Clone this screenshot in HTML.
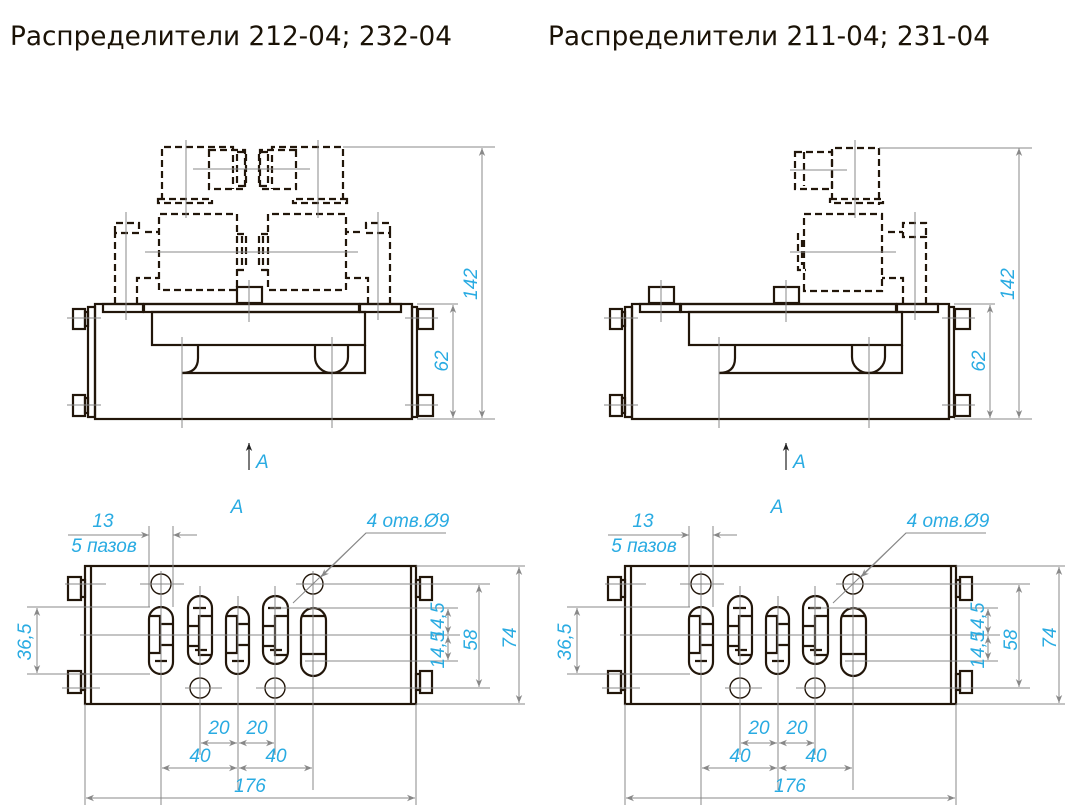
<!DOCTYPE html>
<html><head><meta charset="utf-8"><style>
html,body{margin:0;padding:0;background:#fff;}
svg{display:block;}
.k{fill:none;stroke:#22160a;stroke-width:2.2;}
.d{fill:none;stroke:#22160a;stroke-width:2.2;stroke-dasharray:7,4;}
.g{fill:none;stroke:#888;stroke-width:1;}
.t{font-family:"Liberation Sans",sans-serif;font-style:italic;fill:#29abe2;font-size:19px;}
.h{font-family:"DejaVu Sans","Liberation Sans",sans-serif;fill:#1a1206;font-size:27px;}
</style></head><body>
<svg width="1074" height="807" viewBox="0 0 1074 807" xmlns="http://www.w3.org/2000/svg">
<defs>
<marker id="a" viewBox="0 0 10 10" refX="10" refY="5" markerWidth="10" markerHeight="8" orient="auto-start-reverse" markerUnits="userSpaceOnUse"><path d="M0,1 L10,5 L0,9 L3,5 Z" fill="#888"/></marker>
<marker id="b" viewBox="0 0 10 10" refX="10" refY="5" markerWidth="10" markerHeight="8" orient="auto-start-reverse" markerUnits="userSpaceOnUse"><path d="M0,1 L10,5 L0,9 L3,5 Z" fill="#222"/></marker>

<g id="body">
 <rect class="k" x="95" y="304" width="317" height="115"/>
 <rect class="k" x="103" y="304" width="40" height="8"/>
 <rect class="k" x="144" y="304" width="215" height="8"/>
 <rect class="k" x="360" y="304" width="41" height="8"/>
 <rect class="k" x="152" y="312" width="213" height="33"/>
 <path class="k" d="M182,373 H365 V345"/>
 <path class="k" d="M198,345 V358 Q198,373 182,373"/>
 <path class="k" d="M315,345 V357 A16.5,16 0 0 0 348,357 V345"/>
 <rect class="k" x="88" y="307" width="7" height="110"/>
 <rect class="k" x="412" y="307" width="5" height="110"/>
 <rect class="k" x="73" y="309" width="12" height="20"/>
 <rect class="k" x="73" y="395" width="12" height="21"/>
 <rect class="k" x="85" y="312" width="3" height="14"/>
 <rect class="k" x="85" y="398" width="3" height="15"/>
 <rect class="k" x="418" y="309" width="15" height="20"/>
 <rect class="k" x="418" y="395" width="15" height="21"/>
 <rect class="k" x="237" y="287" width="25" height="16"/>
 <path class="g" d="M249,280 V322 M182,337 V428 M332,337 V428 M67,318 H101 M67,405 H101 M405,318 H438 M405,405 H438"/>
 <path class="g" d="M417,419 H495 M417,304 H458"/>
 <line class="g" x1="482" y1="148" x2="482" y2="418" marker-start="url(#a)" marker-end="url(#a)"/>
 <line class="g" x1="453" y1="305" x2="453" y2="418" marker-start="url(#a)" marker-end="url(#a)"/>
 <text class="t" transform="translate(477,284) rotate(-90)" text-anchor="middle" font-size="21">142</text>
 <text class="t" transform="translate(448,361) rotate(-90)" text-anchor="middle" font-size="20">62</text>
 <line x1="249" y1="470" x2="249" y2="443" stroke="#222" stroke-width="1.2" marker-end="url(#b)"/>
 <text class="t" x="256" y="468" font-size="15">A</text>
</g>

<g id="bottom">
 <rect class="k" x="85" y="566" width="331" height="138"/>
 <path class="k" d="M91,566 V704 M411,566 V704"/>
 <rect class="k" x="68" y="577" width="13" height="23"/>
 <rect class="k" x="68" y="671" width="13" height="22"/>
 <rect class="k" x="81" y="580" width="4" height="17"/>
 <rect class="k" x="81" y="674" width="4" height="16"/>
 <rect class="k" x="420" y="577" width="12" height="23"/>
 <rect class="k" x="420" y="671" width="12" height="22"/>
 <rect class="k" x="416" y="580" width="4" height="17"/>
 <rect class="k" x="416" y="674" width="4" height="16"/>
 <g stroke-width="1.4" stroke="#22160a" fill="none">
  <circle cx="161" cy="584" r="10"/><circle cx="313" cy="584" r="10"/>
  <circle cx="200" cy="688" r="10"/><circle cx="275" cy="688" r="10"/>
 </g>
 <g class="k" stroke-width="1.8">
  <rect x="149" y="607" width="24" height="67" rx="12"/>
  <rect x="188" y="596" width="24" height="68" rx="12"/>
  <rect x="226" y="607" width="23" height="67" rx="11.5"/>
  <rect x="263" y="596" width="25" height="68" rx="12.5"/>
  <rect x="301" y="608" width="25" height="68" rx="12.5"/>
  <path d="M149,616 H160 V653 H149 M160,624 H173 M160,645 H173 M155,661 H167"/>
  <path d="M212,616 H199 V655 H212 M188,626 H199 M188,646 H199 M193,608 H206 M195,650 H207"/>
  <path d="M226,616 H237 V653 H226 M237,624 H249 M237,645 H249 M232,661 H244"/>
  <path d="M288,616 H275 V655 H288 M263,626 H275 M263,646 H275 M268,608 H281 M270,650 H282"/>
  <path d="M301,616 H326 M301,654 H326"/>
 </g>
 <path class="g" d="M80,635 H460 M65,584 H106 M140,584 H184 M296,584 H490 M405,584 H440 M62,688 H100 M185,688 H222 M256,688 H490 M405,688 H445
  M161,571 V805 M200,586 V755 M238,596 V790 M275,586 V755 M313,571 V790 M149,526 V607 M173,526 V607 M85,704 V805 M416,704 V805
  M27,607 H150 M27,674 H150 M270,608 H458 M305,661 H458 M416,566 H525 M416,704 H525"/>
 <line class="g" x1="68" y1="535" x2="149" y2="535" marker-end="url(#a)"/>
 <line class="g" x1="197" y1="535" x2="173" y2="535" marker-end="url(#a)"/>
 <line class="g" x1="37" y1="608" x2="37" y2="673" marker-start="url(#a)" marker-end="url(#a)"/>
 <line class="g" x1="448" y1="609" x2="448" y2="634" marker-start="url(#a)" marker-end="url(#a)"/>
 <line class="g" x1="448" y1="636" x2="448" y2="660" marker-start="url(#a)" marker-end="url(#a)"/>
 <line class="g" x1="479" y1="585" x2="479" y2="687" marker-start="url(#a)" marker-end="url(#a)"/>
 <line class="g" x1="519" y1="567" x2="519" y2="703" marker-start="url(#a)" marker-end="url(#a)"/>
 <line class="g" x1="201" y1="743" x2="237" y2="743" marker-start="url(#a)" marker-end="url(#a)"/>
 <line class="g" x1="239" y1="743" x2="274" y2="743" marker-start="url(#a)" marker-end="url(#a)"/>
 <line class="g" x1="162" y1="768" x2="237" y2="768" marker-start="url(#a)" marker-end="url(#a)"/>
 <line class="g" x1="239" y1="768" x2="312" y2="768" marker-start="url(#a)" marker-end="url(#a)"/>
 <line class="g" x1="86" y1="798" x2="415" y2="798" marker-start="url(#a)" marker-end="url(#a)"/>
 <path class="g" d="M446,533 H366 L293,603"/>
 <line class="g" x1="366" y1="533" x2="321" y2="577" marker-end="url(#a)"/>
 <text class="t" x="237" y="513" text-anchor="middle" font-size="15">A</text>
 <text class="t" x="103" y="527" text-anchor="middle">13</text>
 <text class="t" x="104" y="552" text-anchor="middle">5 пазов</text>
 <text class="t" x="408" y="527" text-anchor="middle" font-size="15">4 отв.Ø9</text>
 <text class="t" transform="translate(31,642) rotate(-90)" text-anchor="middle">36,5</text>
 <text class="t" transform="translate(444,621) rotate(-90)" text-anchor="middle" font-size="11">14,5</text>
 <text class="t" transform="translate(444,650) rotate(-90)" text-anchor="middle" font-size="11">14,5</text>
 <text class="t" transform="translate(477,640) rotate(-90)" text-anchor="middle" font-size="20">58</text>
 <text class="t" transform="translate(516,638) rotate(-90)" text-anchor="middle" font-size="20">74</text>
 <text class="t" x="219" y="734" text-anchor="middle">20</text>
 <text class="t" x="257" y="734" text-anchor="middle">20</text>
 <text class="t" x="200" y="762" text-anchor="middle">40</text>
 <text class="t" x="276" y="762" text-anchor="middle">40</text>
 <text class="t" x="250" y="792" text-anchor="middle">176</text>
</g>

<g id="unitL">
 <path class="d" d="M162,200 V147 H233 V189"/>
 <rect class="d" x="209" y="150" width="36" height="39"/>
 <rect class="d" x="237" y="152" width="9" height="34"/>
 <rect class="d" x="158" y="199" width="54" height="4"/>
 <path class="d" d="M159,290 V214 H237 V290 Z"/>
 <path class="d" d="M137,304 V278 H159"/>
 <path class="d" d="M115,304 V233 H139 V223 H115 V233 M145,232 H159"/>
 <path class="d" d="M242,236 V265 M246,236 V265 M237,270 H247 M237,234 H247"/>
</g>
</defs>

<text class="h" x="10" y="45" textLength="442" lengthAdjust="spacingAndGlyphs">Распределители 212-04; 232-04</text>
<text class="h" x="548" y="45" textLength="442" lengthAdjust="spacingAndGlyphs">Распределители 211-04; 231-04</text>

<use href="#body"/>
<use href="#bottom"/>
<use href="#unitL"/>
<use href="#unitL" transform="translate(505,0) scale(-1,1)"/>
<path class="g" d="M145,252 H358 M193,169 H310 M186,140 V218 M318,140 V218 M343,147 H495 M126,212 V320 M378,212 V320"/>

<use href="#body" transform="translate(537,0)"/>
<use href="#bottom" transform="translate(540,0)"/>
<rect class="k" x="649" y="287" width="25" height="16"/>
<path class="g" d="M661,280 V322"/>
<g>
 <path class="d" d="M832,200 V148 H879 V205"/>
 <rect class="d" x="795" y="152" width="37" height="37"/>
 <path class="d" d="M804,152 V186"/>
 <rect class="d" x="830" y="199" width="53" height="4"/>
 <path class="d" d="M804,291 V214 H882 V291 Z"/>
 <path class="d" d="M798,233 V270 H806 M802,240 V265"/>
 <path class="d" d="M903,304 V278 H882"/>
 <path class="d" d="M926,304 V237 H903 V223 H926 V237 M888,232 H903"/>
</g>
<path class="g" d="M790,252 H896 M790,170 H847 M855,140 V218 M915,212 V320 M879,148 H1032"/>
</svg>
</body></html>
